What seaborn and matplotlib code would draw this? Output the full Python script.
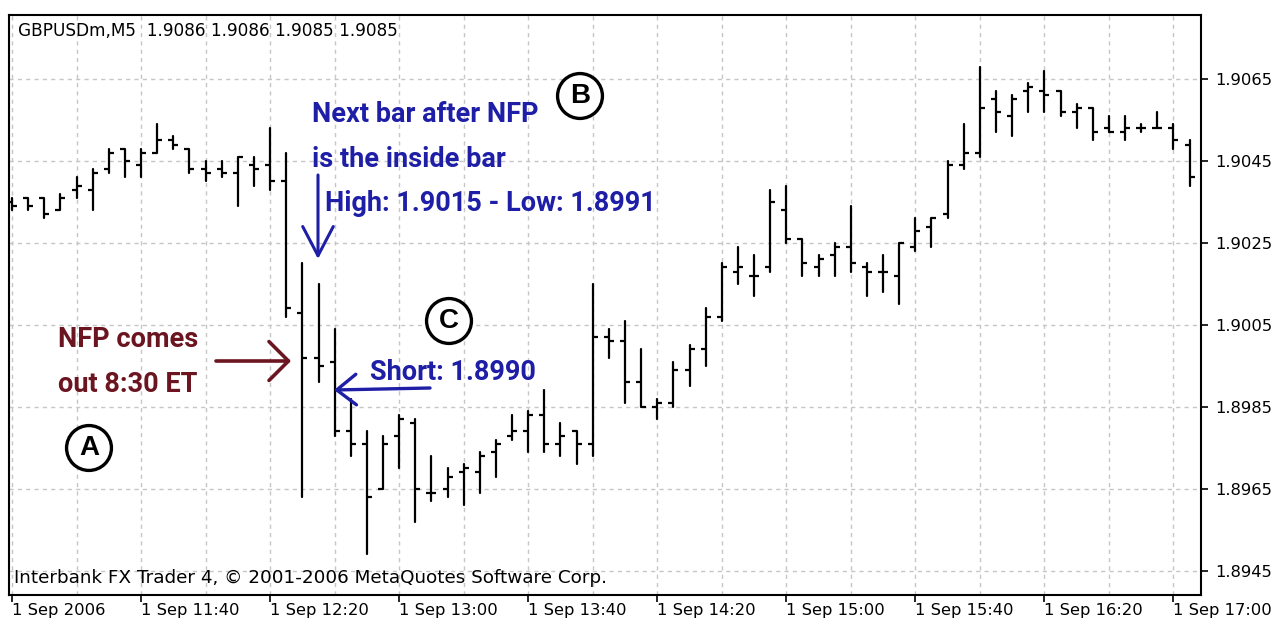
import numpy as np
import pandas as pd
import matplotlib
matplotlib.use("Agg")
import matplotlib.pyplot as plt
from matplotlib.path import Path
from matplotlib.patches import FancyArrowPatch
import seaborn as sns

# ---------------- data (GBPUSD, M5 bars, 1 Sep 2006 11:00 - 17:05) ----------------
opens = [1.9035, 1.9036, 1.9036, 1.9033, 1.9038, 1.9038, 1.9043, 1.9048, 1.9044, 1.9047,
         1.9050, 1.9048, 1.9043, 1.9043, 1.9042, 1.9044, 1.9044, 1.9040, 1.9008, 1.8997,
         1.8996, 1.8979, 1.8976, 1.8965, 1.8978, 1.8981, 1.8964, 1.8965, 1.8969, 1.8969,
         1.8974, 1.8978, 1.8979, 1.8983, 1.8976, 1.8979, 1.8976, 1.9002, 1.9001, 1.8991,
         1.8985, 1.8986, 1.8994, 1.8999, 1.9007, 1.9018, 1.9017, 1.9019, 1.9033, 1.9026,
         1.9019, 1.9022, 1.9024, 1.9019, 1.9018, 1.9017, 1.9024, 1.9029, 1.9032, 1.9044,
         1.9047, 1.9060, 1.9056, 1.9062, 1.9062, 1.9062, 1.9057, 1.9058, 1.9053, 1.9052,
         1.9053, 1.9053, 1.9053, 1.9049]
highs = [1.9036, 1.9036, 1.9036, 1.9037, 1.9041, 1.9043, 1.9048, 1.9048, 1.9048, 1.9054,
         1.9051, 1.9048, 1.9045, 1.9045, 1.9046, 1.9046, 1.9053, 1.9047, 1.9020, 1.9015,
         1.9004, 1.8987, 1.8979, 1.8978, 1.8983, 1.8982, 1.8973, 1.8970, 1.8971, 1.8974,
         1.8977, 1.8983, 1.8984, 1.8989, 1.8981, 1.8979, 1.9015, 1.9004, 1.9006, 1.8999,
         1.8987, 1.8996, 1.9000, 1.9009, 1.9020, 1.9024, 1.9022, 1.9038, 1.9039, 1.9026,
         1.9022, 1.9025, 1.9034, 1.9020, 1.9022, 1.9025, 1.9031, 1.9031, 1.9045, 1.9054,
         1.9068, 1.9062, 1.9061, 1.9064, 1.9067, 1.9062, 1.9059, 1.9058, 1.9056, 1.9056,
         1.9054, 1.9057, 1.9054, 1.9050]
lows = [1.9033, 1.9033, 1.9031, 1.9033, 1.9036, 1.9033, 1.9042, 1.9041, 1.9041, 1.9047,
        1.9048, 1.9042, 1.9040, 1.9041, 1.9034, 1.9039, 1.9038, 1.9007, 1.8963, 1.8991,
        1.8978, 1.8973, 1.8949, 1.8965, 1.8970, 1.8957, 1.8962, 1.8963, 1.8961, 1.8964,
        1.8968, 1.8977, 1.8974, 1.8974, 1.8973, 1.8971, 1.8973, 1.8997, 1.8986, 1.8985,
        1.8982, 1.8985, 1.8990, 1.8995, 1.9006, 1.9015, 1.9012, 1.9018, 1.9025, 1.9017,
        1.9017, 1.9017, 1.9018, 1.9012, 1.9013, 1.9010, 1.9023, 1.9024, 1.9031, 1.9043,
        1.9046, 1.9052, 1.9051, 1.9057, 1.9057, 1.9056, 1.9053, 1.9050, 1.9052, 1.9050,
        1.9052, 1.9053, 1.9048, 1.9039]
closes = [1.9034, 1.9034, 1.9032, 1.9036, 1.9039, 1.9042, 1.9047, 1.9045, 1.9047, 1.9050,
          1.9049, 1.9043, 1.9042, 1.9042, 1.9046, 1.9043, 1.9040, 1.9009, 1.8997, 1.8995,
          1.8979, 1.8976, 1.8963, 1.8976, 1.8982, 1.8965, 1.8964, 1.8968, 1.8970, 1.8973,
          1.8976, 1.8979, 1.8983, 1.8976, 1.8978, 1.8976, 1.9002, 1.9001, 1.8991, 1.8985,
          1.8986, 1.8994, 1.8999, 1.9007, 1.9019, 1.9019, 1.9017, 1.9035, 1.9026, 1.9020,
          1.9021, 1.9024, 1.9020, 1.9018, 1.9018, 1.9025, 1.9028, 1.9031, 1.9044, 1.9047,
          1.9058, 1.9057, 1.9060, 1.9063, 1.9061, 1.9057, 1.9058, 1.9052, 1.9052, 1.9053,
          1.9053, 1.9053, 1.9050, 1.9041]
tick_labels = ["1 Sep 2006", "1 Sep 11:40", "1 Sep 12:20", "1 Sep 13:00", "1 Sep 13:40",
               "1 Sep 14:20", "1 Sep 15:00", "1 Sep 15:40", "1 Sep 16:20", "1 Sep 17:00"]
price_ticks = [1.8945, 1.8965, 1.8985, 1.9005, 1.9025, 1.9045, 1.9065]
header = "GBPUSDm,M5  1.9086 1.9086 1.9085 1.9085"
footer = "Interbank FX Trader 4, \u00a9 2001-2006 MetaQuotes Software Corp."

# ---------------- figure ----------------
sns.set_theme(style="white")
plt.rcParams["font.family"] = ["DejaVu Sans"]

W, H = 1274, 626
fig = plt.figure(figsize=(W / 100, H / 100), dpi=100)
fig.patch.set_facecolor("white")
ax = fig.add_axes([9 / W, 1 - 595 / H, 1192 / W, 580 / H])
ax.set_facecolor("white")


def fx(px):
    return px / W


def fy(py):
    return 1 - py / H


bars = np.arange(len(opens))
df = pd.DataFrame({"bar": bars, "open": opens, "high": highs, "low": lows, "close": closes})
rng = df.melt(id_vars="bar", value_vars=["low", "high"], value_name="price")

# high-low ranges
sns.lineplot(data=rng, x="bar", y="price", units="bar", estimator=None, color="black",
             lw=1.6, ax=ax, legend=False)

# open (left) and close (right) ticks
left_tick = Path([(-1, 0), (0, 0)], [Path.MOVETO, Path.LINETO])
right_tick = Path([(0, 0), (1, 0)], [Path.MOVETO, Path.LINETO])
sns.scatterplot(data=df, x="bar", y="open", marker=left_tick, s=56, color="black",
                edgecolor="black", linewidth=1.6, ax=ax, legend=False, zorder=3)
sns.scatterplot(data=df, x="bar", y="close", marker=right_tick, s=56, color="black",
                edgecolor="black", linewidth=1.6, ax=ax, legend=False, zorder=3)

# ---------------- axes ----------------
ax.set_xlim(-0.19, 73.71)
ax.set_ylim(1.89391, 1.90806)
ax.set_xticks(range(0, 73, 8))
ax.set_xticklabels(tick_labels)
ax.set_xticks(range(0, 74, 4), minor=True)
ax.set_yticks(price_ticks)
ax.set_yticklabels([f"{p:.4f}" for p in price_ticks])
ax.yaxis.tick_right()
ax.set_xlabel("")
ax.set_ylabel("")
ax.set_axisbelow(True)

grid_kw = dict(color="#c6c6c6", linestyle=(0, (3, 3)), linewidth=1.0)
ax.grid(True, which="both", axis="x", **grid_kw)
ax.grid(True, which="major", axis="y", **grid_kw)

ax.tick_params(axis="x", which="major", bottom=True, length=5, width=1.2, color="black",
               direction="out", pad=1, labelsize=11.8, labelcolor="black")
ax.tick_params(axis="x", which="minor", bottom=False, length=0)
ax.tick_params(axis="y", which="major", right=True, left=False, length=5, width=1.2,
               color="black", direction="out", pad=5, labelsize=11.8, labelcolor="black")
for lbl in ax.get_xticklabels():
    lbl.set_horizontalalignment("left")
for sp in ax.spines.values():
    sp.set_color("black")
    sp.set_linewidth(1.5)
    sp.set_visible(True)

# ---------------- texts ----------------
fig.text(fx(18), fy(31), header, fontsize=12.2, color="black", ha="left", va="center")
fig.text(fx(14), fy(578), footer, fontsize=13.2, color="black", ha="left", va="center")

blue = "#1e1ea6"
dred = "#6b1520"
cond = ["Roboto", "DejaVu Sans"]
arial = ["Liberation Sans", "DejaVu Sans"]

fig.text(fx(312), fy(122), "Next bar after NFP", color=blue, fontsize=19.5, fontweight="bold",
         family=cond, ha="left", va="baseline")
fig.text(fx(312), fy(167), "is the inside bar", color=blue, fontsize=19.5, fontweight="bold",
         family=cond, ha="left", va="baseline")
fig.text(fx(325), fy(211), "High: 1.9015 - Low: 1.8991", color=blue, fontsize=19.5,
         fontweight="bold", family=cond, ha="left", va="baseline")
fig.text(fx(370), fy(380), "Short: 1.8990", color=blue, fontsize=19.5, fontweight="bold",
         family=cond, ha="left", va="baseline")
fig.text(fx(58), fy(347), "NFP comes", color=dred, fontsize=19.5, fontweight="bold",
         family=cond, ha="left", va="baseline")
fig.text(fx(58), fy(392), "out 8:30 ET", color=dred, fontsize=19.5, fontweight="bold",
         family=cond, ha="left", va="baseline")

for letter, (px, py) in {"A": (89, 448), "B": (580, 96), "C": (449, 321)}.items():
    fig.text(fx(px), fy(py), letter, ha="center", va="center", fontsize=20,
             fontweight="bold", family=arial, color="black",
             bbox=dict(boxstyle="circle,pad=0.34", fc="white", ec="black", lw=2.4))


def arrow(p0, p1, color, lw, hl, hw):
    fig.add_artist(FancyArrowPatch((fx(p0[0]), fy(p0[1])), (fx(p1[0]), fy(p1[1])),
                                   transform=fig.transFigure,
                                   arrowstyle=f"->,head_length={hl},head_width={hw}",
                                   mutation_scale=1, color=color, lw=lw,
                                   shrinkA=0, shrinkB=0))


arrow((216, 361), (291, 361), dred, 2.6, 14, 14)
arrow((318, 175), (318, 259), blue, 2.2, 21, 11)
arrow((430, 388), (334, 390), blue, 2.4, 14, 11)

fig.savefig("out.png", dpi=100, facecolor="white")
